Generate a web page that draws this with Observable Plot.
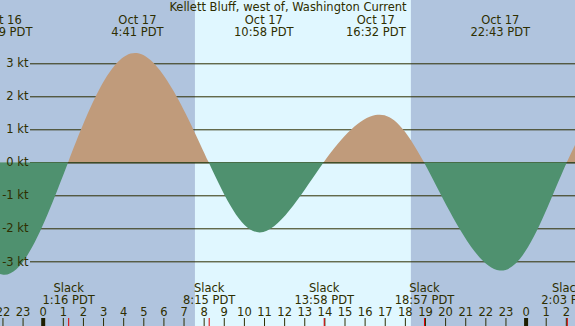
<!DOCTYPE html>
<html><head><meta charset="utf-8">
<script src="https://cdn.jsdelivr.net/npm/d3@7"></script>
<script src="https://cdn.jsdelivr.net/npm/@observablehq/plot@0.6"></script>
<style>html,body{margin:0;padding:0;background:#b0c4de}#chart svg{display:block;overflow:hidden}</style>
</head><body><div id="chart"></div>
<script>
// ---- data ----
const title = "Kellett Bluff, west of, Washington Current";
// tide current events (slack = 0 kt); first two and last two are off-screen estimates
const eventDays  = ["Oct 16","Oct 16","Oct 16","Oct 17","Oct 17","Oct 17","Oct 17","Oct 17","Oct 17","Oct 17","Oct 17","Oct 18","Oct 18","Oct 18"];
const eventTimes = ["15:20","18:40","21:59","1:16","4:41","8:15","10:58","13:58","16:32","18:57","22:43","2:03","5:20","8:35"];
const eventKnots = [1.8, 0, -3.4, 0, 3.31, 0, -2.11, 0, 1.43, 0, -3.28, 0, 2.4, 0];
const sunrise = ["Oct 17", "7:34"];
const sunset  = ["Oct 17", "18:18"];
const ktTicks = [-3, -2, -1, 0, 1, 2, 3];
const hourTicks = [-2,-1,0,1,2,3,4,5,6,7,8,9,10,11,12,13,14,15,16,17,18,19,20,21,22,23,24,25,26];
const hourLabels = ["22","23","0","1","2","3","4","5","6","7","8","9","10","11","12","13","14","15","16","17","18","19","20","21","22","23","0","1","2"];

// ---- styling ----
const night = "#b0c4de", dayFill = "#e0f7ff", flood = "#c09b7b", ebb = "#4f916f", ink = "#2e2e00";
const W = 575, H = 326;
const xDomain = [-2.122, 26.456];

const dayOffset = {"Oct 16": -24, "Oct 17": 0, "Oct 18": 24};
const toHours = (day, time) => { const [h, m] = time.split(":").map(Number); return dayOffset[day] + h + m / 60; };
const events = eventTimes.map((t, i) => ({day: eventDays[i], time: t, t: toHours(eventDays[i], t), v: eventKnots[i]}));
const inView = d => d.t >= xDomain[0] - 0.5 && d.t <= xDomain[1] + 0.5;
const slacks = events.filter(d => d.v === 0 && inView(d));
const extrema = events.filter(d => d.v !== 0 && inView(d));
const hours = hourTicks.map((h, i) => ({h, label: hourLabels[i], midnight: hourLabels[i] === "0"}));

const chart = Plot.plot({
  width: W, height: H, margin: 0,
  x: {domain: xDomain, axis: null},
  y: {domain: [-4.96, 4.918], axis: null},
  style: {fontFamily: "DejaVu Sans", fontSize: "11.5px", background: night, color: ink},
  marks: [
    Plot.frame({fill: night, stroke: null}),
    Plot.rect([{a: toHours(...sunrise), b: toHours(...sunset)}], {x1: "a", x2: "b", fill: dayFill}),
    Plot.ruleY(ktTicks, {y: d => d, stroke: ink, strokeWidth: 1, insetLeft: 30}),
    Plot.areaY(events, {x: "t", y1: 0, y2: "v", curve: "natural", fill: flood}),
    Plot.ruleY([0], {y: d => d, stroke: ink, strokeWidth: 1, insetLeft: 30}),
    Plot.areaY(events, {x: "t", y1: 0, y2: "v", curve: "natural", fill: ebb}),
    Plot.text(ktTicks, {y: d => d, text: d => `${d} kt`, frameAnchor: "left", dx: 28, textAnchor: "end", lineAnchor: "middle", fill: ink}),
    Plot.text([title], {text: d => d, frameAnchor: "top", dy: 6.8, lineAnchor: "middle", fill: ink}),
    Plot.text(extrema, {x: "t", text: "day", frameAnchor: "top", dy: 20.1, lineAnchor: "middle", fill: ink}),
    Plot.text(extrema, {x: "t", text: d => `${d.time} PDT`, frameAnchor: "top", dy: 31.8, lineAnchor: "middle", fill: ink}),
    Plot.text(slacks, {x: "t", text: () => "Slack", frameAnchor: "bottom", dy: -38.5, lineAnchor: "middle", fill: ink}),
    Plot.text(slacks, {x: "t", text: d => `${d.time} PDT`, frameAnchor: "bottom", dy: -25.9, lineAnchor: "middle", fill: ink}),
    Plot.text(hours, {x: "h", text: "label", frameAnchor: "bottom", dy: -14.5, lineAnchor: "middle", fill: ink}),
    Plot.ruleX(hours.filter(d => !d.midnight), {x: "h", stroke: ink, strokeWidth: 1, insetTop: 318}),
    Plot.ruleX(hours.filter(d => d.midnight), {x: "h", stroke: "#1e1e00", strokeWidth: 4, insetTop: 318}),
    Plot.ruleX(slacks, {x: "t", stroke: "#e00000", strokeWidth: 1, insetTop: 318})
  ]
});

// clip flood fill above the zero line and ebb fill below it
const svg = d3.select(chart);
const y0 = chart.scale("y").apply(0);
const defs = svg.insert("defs", ":first-child");
defs.append("clipPath").attr("id", "clip-flood").append("rect").attr("x", 0).attr("y", 0).attr("width", W).attr("height", y0);
defs.append("clipPath").attr("id", "clip-ebb").append("rect").attr("x", 0).attr("y", y0).attr("width", W).attr("height", H - y0);
const areas = svg.selectAll('g[aria-label="area"]').nodes();
areas[0].setAttribute("clip-path", "url(#clip-flood)");
areas[1].setAttribute("clip-path", "url(#clip-ebb)");
document.getElementById("chart").appendChild(chart);
</script>
</body></html>
